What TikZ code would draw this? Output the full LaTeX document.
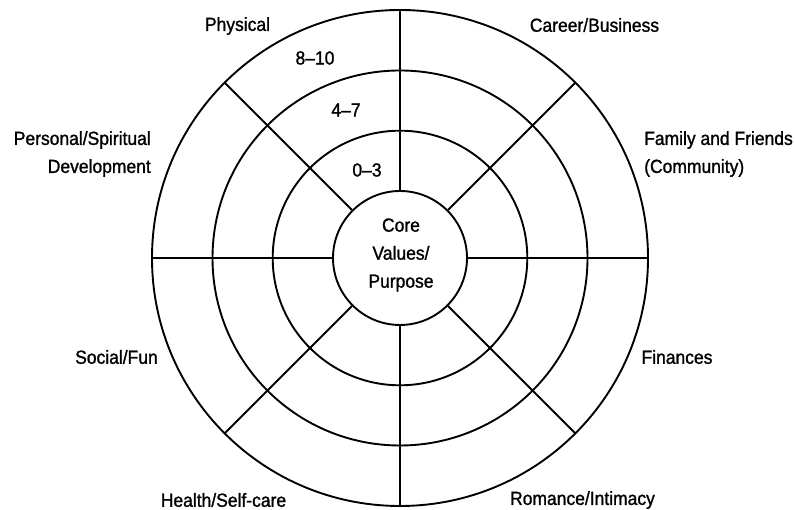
\documentclass[tikz,border=0pt]{standalone}
\usepackage{fontspec}
\usetikzlibrary{calc}
\setmainfont{Liberation Sans}[FakeStretch=0.92,FakeBold=1.2]
\begin{document}
\begin{tikzpicture}[x=1pt,y=1pt,
  ring/.style={draw=black,line width=1.9pt},
  spoke/.style={draw=black,line width=1.9pt},
  lbl/.style={inner sep=0pt,font={\fontsize{19}{28}\selectfont}},
]
\useasboundingbox (0,0) rectangle (795,510);
% centre of the wheel
\coordinate (c) at (400,252);
% concentric rings
\draw[ring] (c) circle (248);
\draw[ring] (c) circle (187.5);
\draw[ring] (c) circle (127.3);
\node[ring,circle,minimum size=134pt,inner sep=0pt] (core) at (c) {};
% eight spokes from the core to the rim
\foreach \a in {0,45,...,315}
  \draw[spoke] (core.\a) -- ($(c)+(\a:248)$);
% core text
\node[lbl,align=center] (coretext) at (401,255) {Core\\Values/\\Purpose};
% score bands
\node[lbl] (s1) at (315,452) {8–10};
\node[lbl] (s2) at (346,400) {4–7};
\node[lbl] (s3) at (367,340) {0–3};
% life areas
\node[lbl] (physical) at (237.5,484) {Physical};
\node[lbl,align=right,anchor=east] (personal) at (151,356) {Personal/Spiritual\\Development};
\node[lbl] (career) at (594.5,485) {Career/Business};
\node[lbl,align=left,anchor=west] (family) at (644,356) {Family and Friends\\(Community)};
\node[lbl] (social) at (116.5,153) {Social/Fun};
\node[lbl] (finances) at (677,153) {Finances};
\node[lbl] (health) at (223.5,10) {Health/Self-care};
\node[lbl] (romance) at (582.5,10) {Romance/Intimacy};
\end{tikzpicture}
\end{document}
